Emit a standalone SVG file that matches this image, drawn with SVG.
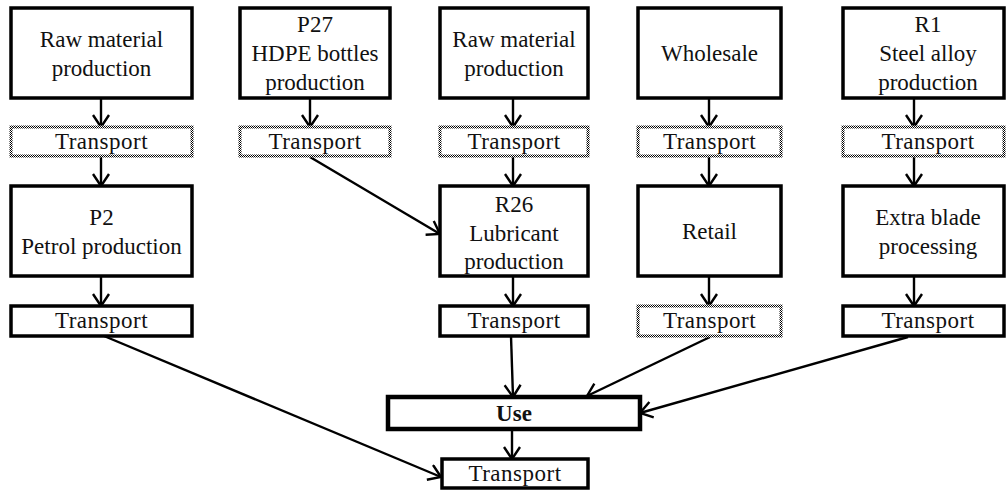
<svg xmlns="http://www.w3.org/2000/svg" width="1008" height="490" viewBox="0 0 1008 490">
  <style>
    .box { fill: #fff; stroke: #000; stroke-width: 3.5; }
    .dot { fill: #fff; stroke: url(#halftone); stroke-width: 3; }
    .use { fill: #fff; stroke: #000; stroke-width: 4.5; }
    text { font-family: 'Liberation Serif', 'Times New Roman', Times, serif; font-size: 23px; fill: #111; text-anchor: middle; }
    .tr { letter-spacing: 0.5px; }
    .b { font-weight: bold; }
    .link { stroke: #000; stroke-width: 2.4; fill: none; marker-end: url(#arrow); }
  </style>
  <defs>
    <!-- 50% halftone used for the stippled borders -->
    <pattern id="halftone" width="2" height="2" patternUnits="userSpaceOnUse">
      <rect width="2" height="2" fill="#fff"/>
      <rect width="1" height="1" fill="#000"/>
      <rect x="1" y="1" width="1" height="1" fill="#000"/>
    </pattern>
    <marker id="arrow" markerWidth="16" markerHeight="20" refX="13" refY="9" orient="auto" markerUnits="userSpaceOnUse">
      <path d="M1,1 L13,9 L1,17" fill="none" stroke="#000" stroke-width="2.4"/>
    </marker>
  </defs>

  <!-- connectors -->
  <g id="connectors">
    <line class="link" x1="101" y1="98" x2="101" y2="127"/>
    <line class="link" x1="101" y1="156" x2="101" y2="186"/>
    <line class="link" x1="101" y1="276" x2="101" y2="306"/>
    <line class="link" x1="310" y1="98" x2="310" y2="127"/>
    <line class="link" x1="310" y1="157" x2="440" y2="234"/>
    <line class="link" x1="513" y1="98" x2="513" y2="127"/>
    <line class="link" x1="513" y1="156" x2="513" y2="186"/>
    <line class="link" x1="513" y1="276" x2="513" y2="306"/>
    <line class="link" x1="511" y1="336" x2="513" y2="397"/>
    <line class="link" x1="709" y1="98" x2="709" y2="127"/>
    <line class="link" x1="709" y1="156" x2="709" y2="186"/>
    <line class="link" x1="709" y1="276" x2="709" y2="306"/>
    <line class="link" x1="914" y1="98" x2="914" y2="127"/>
    <line class="link" x1="914" y1="156" x2="914" y2="186"/>
    <line class="link" x1="914" y1="276" x2="914" y2="306"/>
    <line class="link" x1="104" y1="336" x2="441" y2="477"/>
    <line class="link" x1="710" y1="337" x2="587" y2="396"/>
    <line class="link" x1="908" y1="337" x2="640" y2="413"/>
    <line class="link" x1="512" y1="429" x2="512" y2="459"/>
  </g>

  <!-- column 1 -->
  <g id="raw-material-1">
    <rect class="box" x="11" y="8" width="181" height="90"/>
    <text x="101.5" y="47">Raw material</text>
    <text x="101.5" y="76">production</text>
  </g>
  <g id="transport-1a">
    <rect class="dot" x="11" y="127" width="181" height="29"/>
    <text class="tr" x="101.5" y="149">Transport</text>
  </g>
  <g id="petrol">
    <rect class="box" x="11" y="186" width="181" height="90"/>
    <text x="101.5" y="225">P2</text>
    <text x="101.5" y="254">Petrol production</text>
  </g>
  <g id="transport-1b">
    <rect class="box" x="11" y="306" width="181" height="30"/>
    <text class="tr" x="101.5" y="328">Transport</text>
  </g>

  <!-- column 2 -->
  <g id="hdpe">
    <rect class="box" x="240" y="8" width="150" height="90"/>
    <text x="315" y="32">P27</text>
    <text x="315" y="61">HDPE bottles</text>
    <text x="315" y="90">production</text>
  </g>
  <g id="transport-2a">
    <rect class="dot" x="240" y="127" width="150" height="29"/>
    <text class="tr" x="315" y="149">Transport</text>
  </g>

  <!-- column 3 -->
  <g id="raw-material-3">
    <rect class="box" x="440" y="8" width="148" height="90"/>
    <text x="514" y="47">Raw material</text>
    <text x="514" y="76">production</text>
  </g>
  <g id="transport-3a">
    <rect class="dot" x="440" y="127" width="148" height="29"/>
    <text class="tr" x="514" y="149">Transport</text>
  </g>
  <g id="lubricant">
    <rect class="box" x="440" y="186" width="148" height="90"/>
    <text x="514" y="212">R26</text>
    <text x="514" y="241">Lubricant</text>
    <text x="514" y="269">production</text>
  </g>
  <g id="transport-3b">
    <rect class="box" x="440" y="306" width="148" height="30"/>
    <text class="tr" x="514" y="328">Transport</text>
  </g>

  <!-- column 4 -->
  <g id="wholesale">
    <rect class="box" x="638" y="8" width="143" height="90"/>
    <text x="709.5" y="61">Wholesale</text>
  </g>
  <g id="transport-4a">
    <rect class="dot" x="638" y="127" width="143" height="29"/>
    <text class="tr" x="709.5" y="149">Transport</text>
  </g>
  <g id="retail">
    <rect class="box" x="638" y="186" width="143" height="90"/>
    <text x="709.5" y="239">Retail</text>
  </g>
  <g id="transport-4b">
    <rect class="dot" x="638" y="306" width="143" height="30"/>
    <text class="tr" x="709.5" y="328">Transport</text>
  </g>

  <!-- column 5 -->
  <g id="steel-alloy">
    <rect class="box" x="843" y="8" width="161" height="90"/>
    <text x="928" y="32">R1</text>
    <text x="928" y="61">Steel alloy</text>
    <text x="928" y="90">production</text>
  </g>
  <g id="transport-5a">
    <rect class="dot" x="843" y="127" width="161" height="29"/>
    <text class="tr" x="928" y="149">Transport</text>
  </g>
  <g id="blade">
    <rect class="box" x="843" y="186" width="161" height="90"/>
    <text x="928" y="225">Extra blade</text>
    <text x="928" y="254">processing</text>
  </g>
  <g id="transport-5b">
    <rect class="box" x="843" y="306" width="161" height="30"/>
    <text class="tr" x="928" y="328">Transport</text>
  </g>

  <!-- use phase -->
  <g id="use">
    <rect class="use" x="388" y="397" width="252" height="32"/>
    <text class="b" x="514" y="421">Use</text>
  </g>
  <g id="transport-end">
    <rect class="box" x="442" y="459" width="146" height="29"/>
    <text class="tr" x="515" y="481">Transport</text>
  </g>
</svg>
